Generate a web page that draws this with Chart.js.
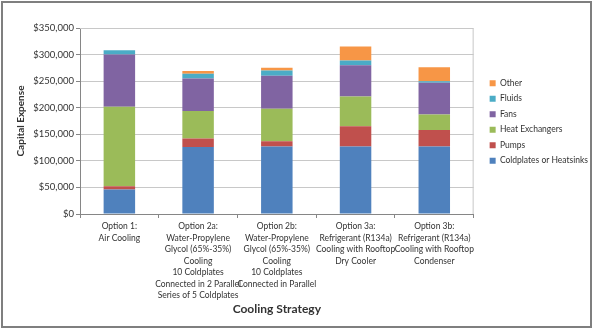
<!DOCTYPE html>
<html>
<head>
<meta charset="utf-8">
<script src="https://cdn.jsdelivr.net/npm/chart.js@4/dist/chart.umd.min.js"></script>
<style>
  html, body { margin: 0; padding: 0; background: #fff; }
  #wrap { width: 594px; height: 332px; position: relative; }
</style>
</head>
<body>
<div id="wrap"><canvas id="chart" width="594" height="332"></canvas></div>
<script>
const categories = [
  ['Option 1:', 'Air Cooling'],
  ['Option 2a:', 'Water-Propylene', 'Glycol (65%-35%)', 'Cooling', '10 Coldplates', 'Connected in 2 Parallel', 'Series of 5 Coldplates'],
  ['Option 2b:', 'Water-Propylene', 'Glycol (65%-35%)', 'Cooling', '10 Coldplates', 'Connected in Parallel'],
  ['Option 3a:', 'Refrigerant (R134a)', 'Cooling with Rooftop', 'Dry Cooler'],
  ['Option 3b:', 'Refrigerant (R134a)', 'Cooling with Rooftop', 'Condenser']
];

const coldplates = [46000, 126000, 127000, 127000, 127000];
const pumps = [6000, 16000, 10000, 38000, 31000];
const heatExchangers = [150000, 52000, 61000, 56000, 29000];
const fans = [98000, 61000, 62000, 59000, 60000];
const fluids = [8000, 9000, 10000, 9000, 3000];
const other = [0, 5000, 5000, 26000, 26000];

const yTicks = { min: 0, max: 350000, step: 50000 };

const font = 'Lato, "Open Sans", sans-serif';
const textColor = '#333333';

// frame around the plot area (top and right) and the outer picture border
const framePlugin = {
  id: 'frame',
  afterLayout(chart) {
    // keep the legend block centred on the plot, a bit to the right of it
    const lg = chart.legend, a = chart.chartArea;
    const h = lg.bottom - lg.top;
    const w = lg.right - lg.left;
    lg.top = (a.top + a.bottom) / 2 - h / 2 + 1;
    lg.bottom = lg.top + h;
    lg.left = a.right + 9;
    lg.right = lg.left + w;
  },
  beforeDatasetsDraw(chart) {
    const { ctx, chartArea: a } = chart;
    ctx.save();
    ctx.strokeStyle = '#c8c8c8';
    ctx.lineWidth = 1;
    ctx.beginPath();
    ctx.moveTo(a.left, a.top + 0.5);
    ctx.lineTo(a.right - 0.5, a.top + 0.5);
    ctx.lineTo(a.right - 0.5, a.bottom);
    ctx.stroke();
    ctx.restore();
  },
  afterDraw(chart) {
    const ctx = chart.ctx;
    ctx.save();
    ctx.strokeStyle = '#7f7f7f';
    ctx.lineWidth = 2;
    ctx.strokeRect(2, 2, 589, 325);
    ctx.restore();
  }
};

new Chart(document.getElementById('chart'), {
  type: 'bar',
  data: {
    labels: categories,
    datasets: [
      { label: 'Coldplates or Heatsinks', data: coldplates, backgroundColor: '#4F81BD' },
      { label: 'Pumps', data: pumps, backgroundColor: '#C0504D' },
      { label: 'Heat Exchangers', data: heatExchangers, backgroundColor: '#9BBB59' },
      { label: 'Fans', data: fans, backgroundColor: '#8064A2' },
      { label: 'Fluids', data: fluids, backgroundColor: '#4BACC6' },
      { label: 'Other', data: other, backgroundColor: '#F79646' }
    ]
  },
  options: {
    responsive: false,
    animation: false,
    maintainAspectRatio: false,
    categoryPercentage: 1,
    barPercentage: 0.4,
    layout: { padding: { top: 28, left: 0, right: 5, bottom: 0 } },
    plugins: {
      tooltip: { enabled: false },
      legend: {
        position: 'right',
        reverse: true,
        labels: {
          boxWidth: 6,
          boxHeight: 6,
          padding: 7,
          color: textColor,
          font: { family: font, size: 8.5 }
        }
      }
    },
    scales: {
      x: {
        stacked: true,
        afterFit(scale) { scale.height = 118; },
        grid: { display: true, drawOnChartArea: false, drawTicks: true, tickLength: 4, color: '#868686', offset: true },
        border: { color: '#868686' },
        ticks: {
          color: textColor,
          font: { family: font, size: 8.5, lineHeight: 1.35 },
          maxRotation: 0,
          autoSkip: false,
          padding: 3
        },
        title: {
          display: true,
          text: 'Cooling Strategy',
          color: textColor,
          font: { family: font, size: 12, weight: 'bold' },
          padding: { top: 0, bottom: 16 }
        }
      },
      y: {
        stacked: true,
        min: yTicks.min,
        max: yTicks.max,
        afterFit(scale) { scale.width = 80; },
        grid: { color: '#c8c8c8', tickLength: 4, tickColor: '#868686' },
        border: { color: '#868686' },
        ticks: {
          stepSize: yTicks.step,
          color: textColor,
          padding: 2,
          font: { family: font, size: 9.5 },
          callback: v => '$' + v.toLocaleString('en-US')
        },
        title: {
          display: true,
          text: 'Capital Expense',
          color: textColor,
          font: { family: font, size: 10, weight: 'bold' },
          padding: { top: 15, bottom: 0 }
        }
      }
    }
  },
  plugins: [framePlugin]
});
</script>
</body>
</html>
